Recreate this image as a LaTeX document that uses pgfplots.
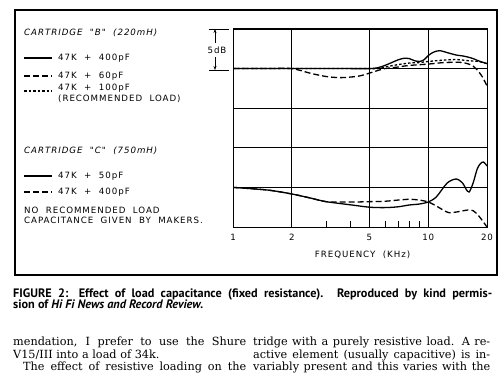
\documentclass[border=0pt]{standalone}
\usepackage{fontspec}
\setmainfont{DejaVu Serif}
\newfontfamily\capfont{PT Sans}
\newfontfamily\lett[LetterSpace=11,WordSpace=2]{DejaVu Sans}
\usepackage{pgfplots}
\pgfplotsset{compat=1.18}
\usetikzlibrary{arrows.meta}
\newcommand{\lf}{\lett\fontsize{8.7}{10}\selectfont}
\newcommand{\bt}{\fontsize{11.3}{13}\selectfont}
\begin{document}
\begin{tikzpicture}[x=1bp,y=1bp]
\clip (0,0) rectangle (500,374);
\fill[white] (0,0) rectangle (500,374);
\draw[line width=1.1bp] (15,99) rectangle (497,364);
\begin{axis}[at={(233bp,147bp)}, anchor=south west,
  width=254bp, height=198bp, scale only axis,
  xmode=log, xmin=1, xmax=20, ymin=0, ymax=25,
  xtick={1,2,5,10,20}, xticklabels={1,2,5,10,20},
  ytick={0,5,10,15,20,25}, yticklabels={},
  grid=major, major grid style={black, line width=0.8bp},
  axis line style={line width=1bp},
  minor xtick={3,4,6,7,8,9}, minor tick length=6bp, major tick length=0pt,
  xtick pos=bottom, ytick pos=left, tick align=inside,
  tick style={black, line width=0.8bp},
  xticklabel style={font=\lf, anchor=center, yshift=-10bp},
  xlabel={FREQUENCY (KHz)},
  xlabel style={font=\lf, at={(axis description cs:0.51,0)}, anchor=center, yshift=-28bp},
]
% Cartridge B, 47K + 400pF
\addplot[black, line width=1.3bp, smooth, tension=0.5, solid] coordinates {(1,20)(2,20)(3,20)(4,20)(5,20)(5.5,20.1)(6,20.4)(6.5,20.76)(7,21.1)(7.5,21.3)(8,21.26)(8.5,21.0)(9,20.9)(9.5,21.1)(10,21.64)(10.5,22.0)(11,22.2)(11.5,22.27)(12,22.15)(13,21.9)(14,21.7)(15,21.6)(16,21.45)(17,21.26)(18,21.0)(19,20.8)(20,20.63)};
% Cartridge B, 47K + 60pF
\addplot[black, line width=1.3bp, smooth, tension=0.5, dash pattern=on 6bp off 3bp] coordinates {(1,20)(1.5,20)(2,20)(2.5,19.4)(3,19.0)(3.5,18.86)(4,18.93)(4.5,19.1)(5,19.43)(5.5,19.75)(6,20)(7,20.2)(8,20.4)(10,20.57)(12,20.76)(14,20.8)(15,20.76)(16,20.6)(17,20.3)(18,19.7)(19,18.9)(20,17.8)};
% Cartridge B, 47K + 100pF
\addplot[black, line width=1.3bp, smooth, tension=0.5, dash pattern=on 2.5bp off 2bp] coordinates {(1,20)(3,20)(5,20)(5.5,20)(6,20.2)(7,20.5)(8,20.7)(9,20.76)(10,20.9)(12,21.07)(14,21.14)(16,21.0)(18,20.9)(20,20.63)};
% Cartridge C, 47K + 50pF
\addplot[black, line width=1.3bp, smooth, tension=0.5, solid] coordinates {(1,5.0)(1.5,4.67)(2,4.17)(2.5,3.65)(3,3.2)(4,2.8)(5,2.5)(6,2.45)(7,2.55)(8,2.78)(9,2.9)(10,3.16)(11,3.8)(12.5,5.55)(13.9,6.06)(15,5.55)(15.6,4.8)(16.2,4.42)(17,5.6)(17.8,7.3)(18.5,8.0)(19.2,8.2)(20,7.7)};
% Cartridge C, 47K + 400pF
\addplot[black, line width=1.3bp, smooth, tension=0.5, dash pattern=on 6bp off 3bp] coordinates {(1,5.0)(1.5,4.67)(2,4.17)(2.5,3.65)(3,3.2)(4,3.15)(5,3.2)(6,3.25)(7,3.4)(8,3.5)(9,3.4)(10,3.16)(11,2.65)(12,2.1)(12.8,1.8)(14,1.9)(16,2.15)(17,2.05)(18,1.5)(19,0.76)(20,0)};
\end{axis}
% 5 dB marker
\draw[line width=0.8bp] (209,345)--(229,345) (209,304)--(229,304);
\draw[line width=0.8bp,-{Stealth[length=4bp,width=3bp]}] (215,331)--(215,345);
\draw[line width=0.8bp,-{Stealth[length=4bp,width=3bp]}] (215,317)--(215,304);
\node[font=\lf, inner sep=0] at (217,324) {5dB};
% legend B
\node[font=\lf\itshape, anchor=west, inner sep=0] at (24,341) {CARTRIDGE "B" (220mH)};
\draw[line width=1.1bp] (24,316)--(52,316);
\node[font=\lf, anchor=west, inner sep=0] at (58,316) {47K + 400pF};
\draw[line width=1.1bp, dash pattern=on 6bp off 3bp] (24,298)--(52,298);
\node[font=\lf, anchor=west, inner sep=0] at (58,298) {47K + 60pF};
\draw[line width=1.1bp, dash pattern=on 2.5bp off 2bp] (24,283)--(52,283);
\node[font=\lf, anchor=west, inner sep=0] at (58,286) {47K + 100pF};
\node[font=\lf, anchor=west, inner sep=0] at (58,275) {(RECOMMENDED LOAD)};
% legend C
\node[font=\lf\itshape, anchor=west, inner sep=0] at (24,223) {CARTRIDGE "C" (750mH)};
\draw[line width=1.1bp] (24,198)--(52,198);
\node[font=\lf, anchor=west, inner sep=0] at (58,198) {47K + 50pF};
\draw[line width=1.1bp, dash pattern=on 6bp off 3bp] (24,182)--(52,182);
\node[font=\lf, anchor=west, inner sep=0] at (58,182) {47K + 400pF};
\node[font=\lf, anchor=west, inner sep=0] at (24,164) {NO RECOMMENDED LOAD};
\node[font=\lf, anchor=west, inner sep=0] at (24,154) {CAPACITANCE GIVEN BY MAKERS.};
% caption
\node[anchor=base west, inner sep=0] at (13,77) {\capfont\bfseries\fontsize{12.3}{14}\selectfont\makebox[479bp][s]{FIGURE 2: Effect of load capacitance (fixed resistance). Reproduced by kind permis-}};
\node[anchor=base west, inner sep=0] at (13,66) {\capfont\bfseries\fontsize{12.3}{14}\selectfont sion of \itshape Hi Fi News and Record Review.};
% body text
\node[anchor=base west, inner sep=0] at (13,29) {\bt\makebox[233bp][s]{mendation, I prefer to use the Shure}};
\node[anchor=base west, inner sep=0] at (13,16) {\bt V15/III into a load of 34k.};
\node[anchor=base west, inner sep=0] at (23,3.5) {\bt\makebox[223bp][s]{The effect of resistive loading on the}};
\node[anchor=base west, inner sep=0] at (253,29) {\bt\makebox[237bp][s]{tridge with a purely resistive load. A re-}};
\node[anchor=base west, inner sep=0] at (253,16) {\bt\makebox[237bp][s]{active element (usually capacitive) is in-}};
\node[anchor=base west, inner sep=0] at (253,3.5) {\bt\makebox[237bp][s]{variably present and this varies with the}};
\end{tikzpicture}
\end{document}
